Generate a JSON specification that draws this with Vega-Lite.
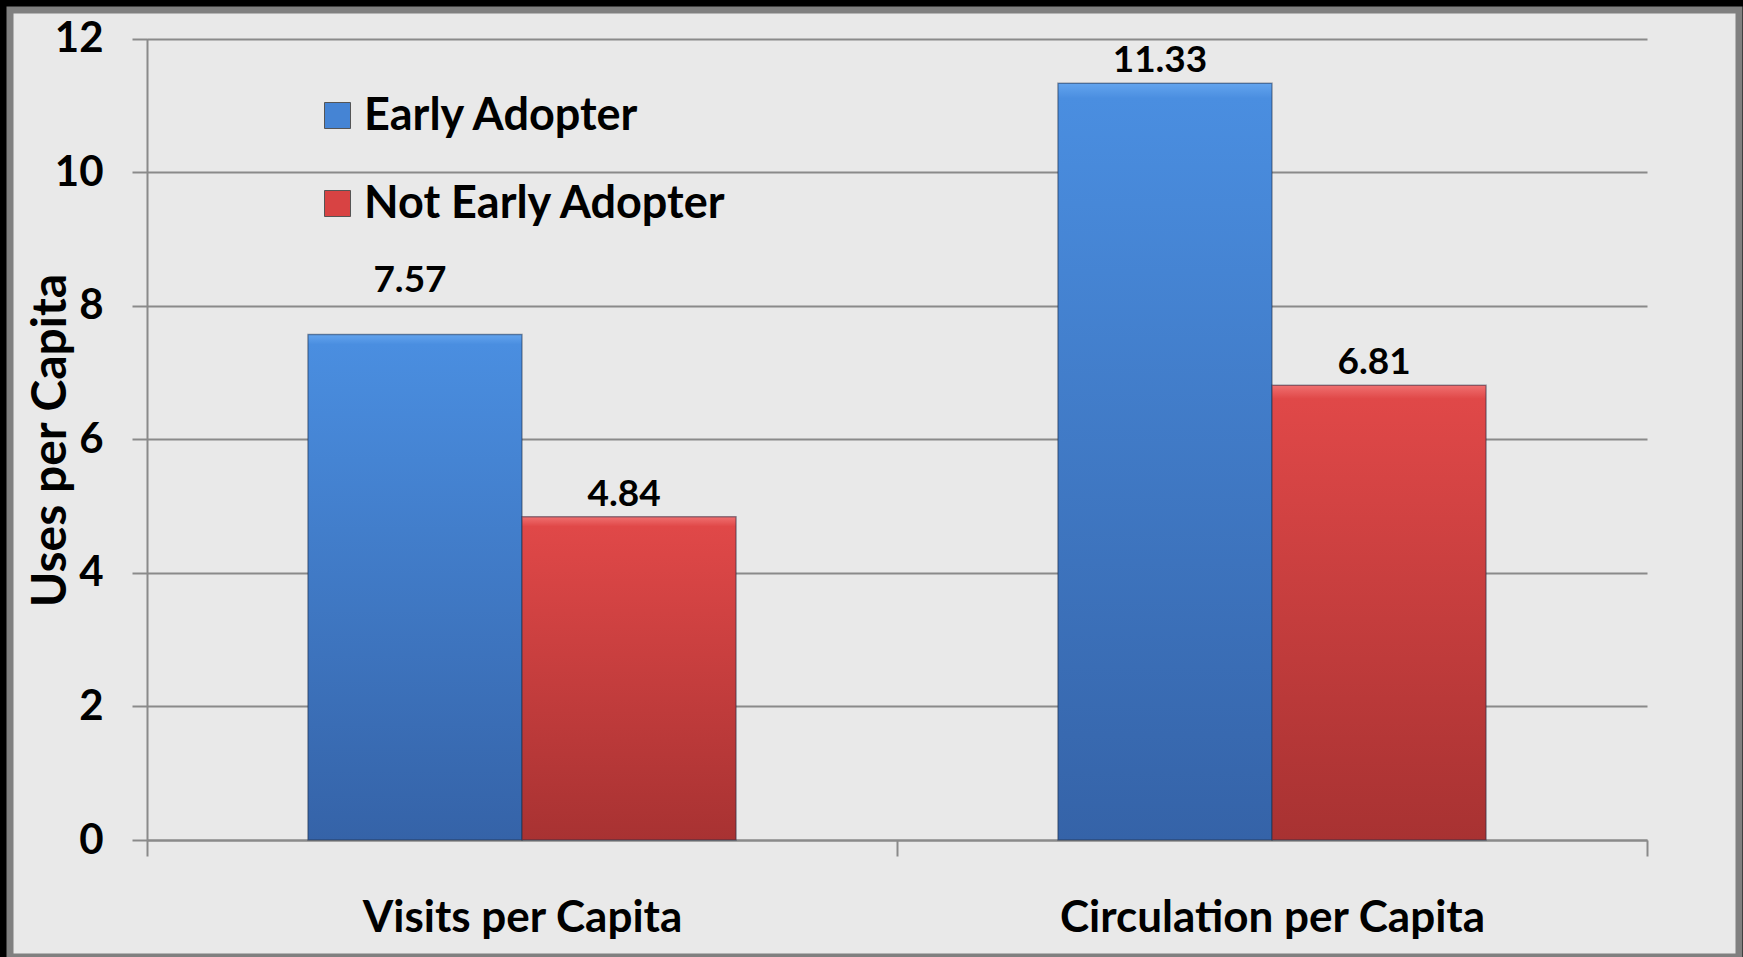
{
  "$schema": "https://vega.github.io/schema/vega-lite/v6.json",
  "background": "#000000",
  "autosize": {"type": "none"},
  "padding": {"left": 10, "top": 10, "right": 4, "bottom": 0},
  "width": 1729,
  "height": 947,
  "config": {
    "view": {"fill": "#e9e9e9", "stroke": "#808080", "strokeWidth": 7}
  },
  "data": {
    "values": [
      {"measure": "Visits per Capita", "series": "Early Adopter", "value": 7.57},
      {"measure": "Visits per Capita", "series": "Not Early Adopter", "value": 4.84},
      {"measure": "Circulation per Capita", "series": "Early Adopter", "value": 11.33},
      {"measure": "Circulation per Capita", "series": "Not Early Adopter", "value": 6.81}
    ]
  },
  "encoding": {
    "x": {
      "field": "measure",
      "type": "nominal",
      "sort": ["Visits per Capita", "Circulation per Capita"],
      "scale": {"range": [137, 1637], "paddingInner": 0, "paddingOuter": 0},
      "axis": {
        "title": null,
        "orient": "bottom",
        "offset": -117,
        "tickBand": "extent",
        "tickSize": 16,
        "tickWidth": 2,
        "tickColor": "#8a8a8a",
        "domainColor": "#8a8a8a",
        "domainWidth": 2,
        "grid": false,
        "labelAngle": 0,
        "labelLimit": 0,
        "labelFont": "Lato",
        "labelFontWeight": "bold",
        "labelFontSize": 44,
        "labelColor": "#000000",
        "labelBaseline": "alphabetic",
        "labelPadding": 75
      }
    },
    "xOffset": {
      "field": "series",
      "type": "nominal",
      "sort": ["Early Adopter", "Not Early Adopter"],
      "scale": {"paddingInner": 0, "paddingOuter": 0.752}
    },
    "y": {
      "field": "value",
      "type": "quantitative",
      "scale": {"domain": [0, 12], "range": [830, 28.5], "nice": false, "zero": true},
      "axis": {
        "title": "Uses per Capita",
        "orient": "left",
        "offset": -137,
        "values": [0, 2, 4, 6, 8, 10, 12],
        "tickSize": 15,
        "tickWidth": 2,
        "tickColor": "#8a8a8a",
        "domainColor": "#8a8a8a",
        "domainWidth": 2,
        "grid": true,
        "gridColor": "#8a8a8a",
        "gridWidth": 2,
        "labelFont": "Lato",
        "labelFontWeight": "bold",
        "labelFontSize": 42,
        "labelColor": "#000000",
        "labelPadding": 29,
        "titleFont": "Lato",
        "titleFontWeight": "bold",
        "titleFontSize": 48,
        "titleColor": "#000000",
        "titleAngle": -90,
        "titleAlign": "center",
        "titleBaseline": "alphabetic",
        "titleX": -82,
        "titleY": 430
      }
    }
  },
  "layer": [
    {
      "mark": {"type": "bar"},
      "encoding": {
        "color": {
          "field": "series",
          "type": "nominal",
          "sort": ["Early Adopter", "Not Early Adopter"],
          "scale": {"range": ["#4584d4", "#d84343"]},
          "legend": {
            "title": null,
            "orient": "none",
            "legendX": 305,
            "legendY": 83,
            "padding": 0,
            "symbolType": "square",
            "symbolSize": 676,
            "symbolStrokeWidth": 1,
            "symbolStrokeColor": "#555555",
            "labelFont": "Lato",
            "labelFontWeight": "bold",
            "labelFontSize": 45,
            "labelLimit": 0,
            "labelColor": "#000000",
            "labelOffset": 4,
            "rowPadding": 42
          }
        }
      }
    },
    {
      "mark": {"type": "bar", "stroke": "#1e2c44", "strokeOpacity": 0.45, "strokeWidth": 1.5},
      "encoding": {
        "fill": {
          "condition": {
            "test": "datum.series === 'Early Adopter'",
            "value": {
              "gradient": "linear", "x1": 0, "y1": 0, "x2": 0, "y2": 1,
              "stops": [
                {"offset": 0, "color": "#63a4ee"},
                {"offset": 0.02, "color": "#4a8ee0"},
                {"offset": 1, "color": "#3563a8"}
              ]
            }
          },
          "value": {
            "gradient": "linear", "x1": 0, "y1": 0, "x2": 0, "y2": 1,
            "stops": [
              {"offset": 0, "color": "#f07070"},
              {"offset": 0.03, "color": "#e04848"},
              {"offset": 1, "color": "#a83232"}
            ]
          }
        }
      }
    },
    {
      "transform": [{"filter": "!(datum.measure === 'Visits per Capita' && datum.series === 'Early Adopter')"}],
      "mark": {
        "type": "text",
        "font": "Lato",
        "fontWeight": "bold",
        "fontSize": 37,
        "color": "#000000",
        "baseline": "alphabetic",
        "align": "center",
        "dx": -5,
        "dy": -11
      },
      "encoding": {
        "text": {"field": "value", "type": "quantitative", "format": ".2f"}
      }
    },
    {
      "transform": [{"filter": "datum.measure === 'Visits per Capita' && datum.series === 'Early Adopter'"}],
      "mark": {
        "type": "text",
        "font": "Lato",
        "fontWeight": "bold",
        "fontSize": 37,
        "color": "#000000",
        "baseline": "alphabetic",
        "align": "center",
        "dx": -5,
        "dy": -42
      },
      "encoding": {
        "text": {"field": "value", "type": "quantitative", "format": ".2f"}
      }
    }
  ]
}
